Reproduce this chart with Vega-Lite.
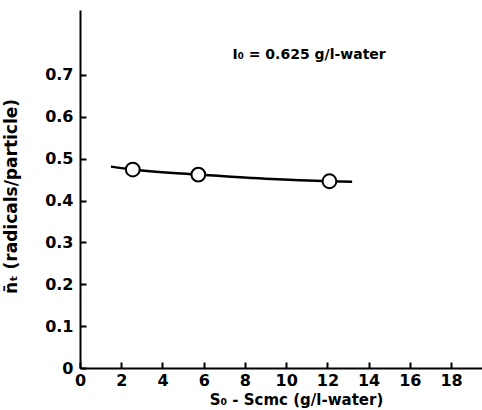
{
  "$schema": "https://vega.github.io/schema/vega-lite/v6.json",
  "width": 402,
  "height": 358,
  "autosize": "none",
  "padding": {"left": 80, "top": 10, "right": 0, "bottom": 42},
  "background": "white",
  "config": {
    "view": {"stroke": null},
    "font": "DejaVu Sans",
    "axis": {
      "domainColor": "black",
      "domainWidth": 2,
      "ticks": true,
      "tickColor": "black",
      "tickWidth": 2,
      "tickSize": -6,
      "labelColor": "black",
      "labelFont": "DejaVu Sans",
      "labelFontWeight": "bold",
      "labelFontSize": 16,
      "titleColor": "black",
      "titleFont": "DejaVu Sans",
      "titleFontWeight": "bold",
      "titleFontSize": 15,
      "grid": false
    }
  },
  "datasets": {
    "measured": [
      {"conc": 2.56, "nt": 0.474},
      {"conc": 5.74, "nt": 0.462},
      {"conc": 12.1, "nt": 0.446}
    ],
    "fit": [
      {"conc": 1.5, "nt": 0.481},
      {"conc": 2.56, "nt": 0.474},
      {"conc": 5.74, "nt": 0.462},
      {"conc": 9.0, "nt": 0.452},
      {"conc": 12.1, "nt": 0.446},
      {"conc": 13.2, "nt": 0.445}
    ],
    "note": [
      {"conc": 7.4, "nt": 0.747, "label": "I₀ = 0.625 g/l-water"}
    ]
  },
  "layer": [
    {
      "data": {"name": "fit"},
      "mark": {"type": "line", "color": "black", "strokeWidth": 2.5, "interpolate": "monotone"},
      "encoding": {
        "x": {
          "field": "conc",
          "type": "quantitative",
          "scale": {"domain": [0, 19.5], "nice": false, "zero": false},
          "axis": {
            "values": [0, 2, 4, 6, 8, 10, 12, 14, 16, 18],
            "labelPadding": 10,
            "labelFlush": false,
            "title": "S₀ - Scmc (g/l-water)",
            "titlePadding": 4,
            "titleX": 216
          }
        },
        "y": {
          "field": "nt",
          "type": "quantitative",
          "scale": {"domain": [0, 0.855], "nice": false, "zero": false},
          "axis": {
            "values": [0, 0.1, 0.2, 0.3, 0.4, 0.5, 0.6, 0.7],
            "labelExpr": "datum.value == 0 ? '0' : format(datum.value, '.1f')",
            "labelPadding": 13,
            "labelFlush": false,
            "title": "n̄ₜ (radicals/particle)",
            "titleFontSize": 17,
            "titleX": -60,
            "titleY": 186
          }
        }
      }
    },
    {
      "data": {"name": "measured"},
      "mark": {"type": "point", "shape": "circle", "filled": true, "fill": "white", "stroke": "black", "strokeWidth": 2, "size": 190, "opacity": 1},
      "encoding": {
        "x": {"field": "conc", "type": "quantitative"},
        "y": {"field": "nt", "type": "quantitative"}
      }
    },
    {
      "data": {"name": "note"},
      "mark": {"type": "text", "align": "left", "baseline": "middle", "fontSize": 14, "fontWeight": "bold", "color": "black"},
      "encoding": {
        "x": {"field": "conc", "type": "quantitative"},
        "y": {"field": "nt", "type": "quantitative"},
        "text": {"field": "label"}
      }
    }
  ]
}
